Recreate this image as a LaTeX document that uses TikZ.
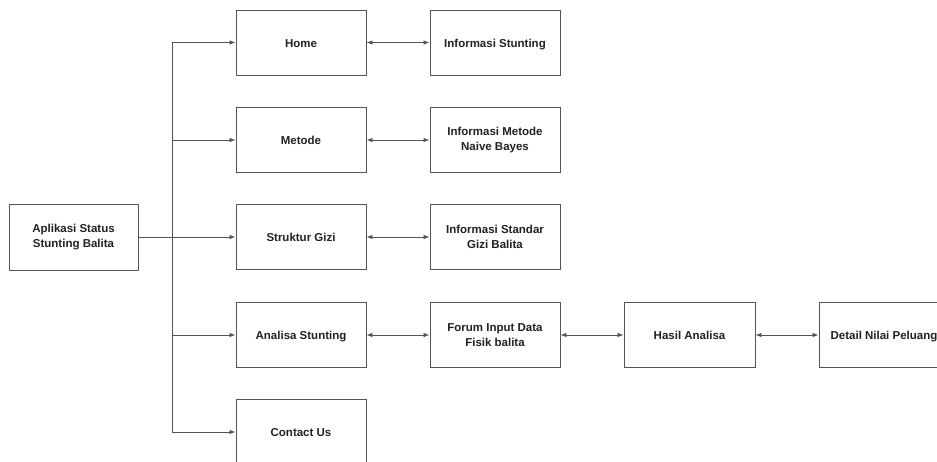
\documentclass[tikz,border=0pt]{standalone}
\usepackage{fontspec}
\setmainfont{Liberation Sans}
\usetikzlibrary{arrows.meta}
\definecolor{lineg}{HTML}{555555}
\definecolor{txt}{HTML}{222222}
\begin{document}
\begin{tikzpicture}[x=1pt,y=-1pt,
  box/.style={draw=lineg, line width=0.9pt, minimum width=130pt, minimum height=65pt, inner sep=0pt,
    align=center, text=txt, font=\bfseries\fontsize{11.5}{15.5}\selectfont},
  one/.style={text height=9.2pt, text depth=0pt},
  conn/.style={draw=lineg, line width=0.8pt},
  arr/.style={conn, -{Latex[length=6pt,width=4.5pt]}},
  darr/.style={conn, {Latex[length=6pt,width=4.5pt]}-{Latex[length=6pt,width=4.5pt]}}]
\useasboundingbox (0,0) rectangle (937,461);
\fill[white] (0,0) rectangle (937,461);
\node[box, minimum width=129pt, minimum height=66pt] (app) at (73.5,237) {Aplikasi Status\\Stunting Balita};
\node[box, one] (home) at (301,42.5) {Home};
\node[box, one] (info1) at (495,42.5) {Informasi Stunting};
\node[box, one] (metode) at (301,140) {Metode};
\node[box] (info2) at (495,140) {Informasi Metode\\Naive Bayes};
\node[box, one] (struktur) at (301,237) {Struktur Gizi};
\node[box] (info3) at (495,237) {Informasi Standar\\Gizi Balita};
\node[box, one] (analisa) at (301,335) {Analisa Stunting};
\node[box] (forum) at (495,335) {Forum Input Data\\Fisik balita};
\node[box, one, minimum width=131pt] (hasil) at (689.5,335) {Hasil Analisa};
\node[box, one] (detail) at (884,335) {Detail Nilai Peluang};
\node[box, one, minimum height=66pt] (contact) at (301,432) {Contact Us};
\coordinate (tk) at (172,0);
\draw[conn] (tk |- home) -- (tk |- contact);
\draw[arr] (app.east) -- (struktur.west);
\draw[arr] (tk |- home) -- (home.west);
\draw[arr] (tk |- metode) -- (metode.west);
\draw[arr] (tk |- analisa) -- (analisa.west);
\draw[arr] (tk |- contact) -- (contact.west);
\draw[darr] (home.east) -- (info1.west);
\draw[darr] (metode.east) -- (info2.west);
\draw[darr] (struktur.east) -- (info3.west);
\draw[darr] (analisa.east) -- (forum.west);
\draw[darr] (forum.east) -- (hasil.west);
\draw[darr] (hasil.east) -- (detail.west);
\end{tikzpicture}
\end{document}
